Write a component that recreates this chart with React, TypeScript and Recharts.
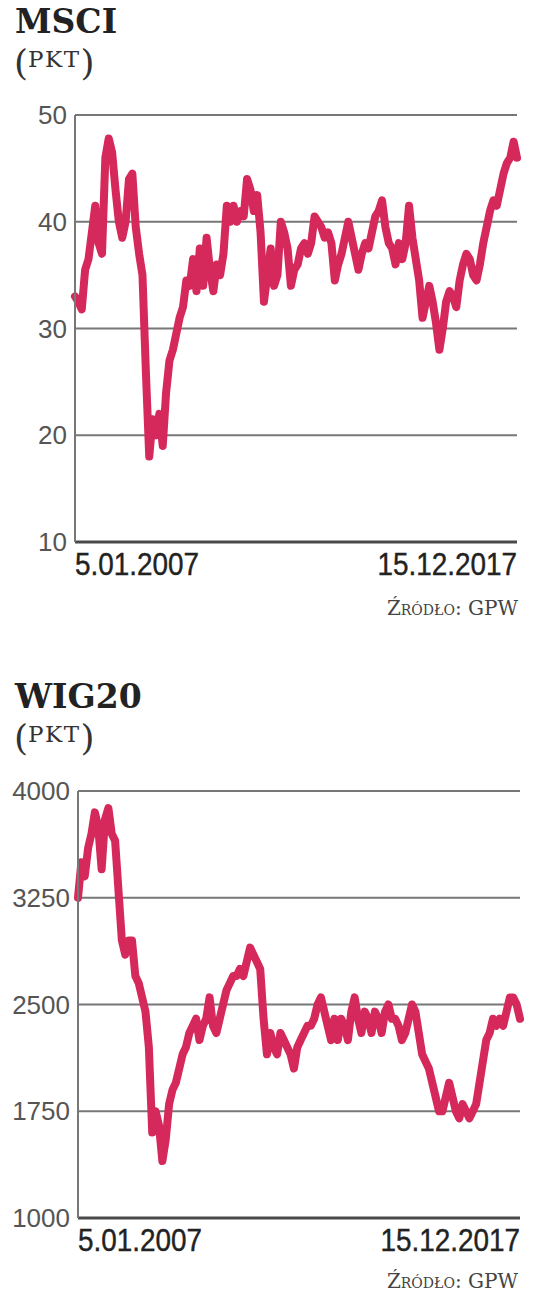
import React from "react";
import { LineChart, Line, XAxis, YAxis, CartesianGrid } from "recharts";

// monthly readings, Jan 2007 .. Dec 2017
const msciValues = [
  33, 32.5, 31.8, 35.5, 36.5, 39, 41.5, 38, 37, 46, 47.8, 46.5,
  43, 40, 38.5, 40, 44, 44.5, 39.5, 37, 35, 26, 18, 21.5,
  20, 22, 19, 24, 27, 28, 29.5, 31, 32, 34.5, 34, 36.5,
  33.5, 37.5, 34, 38.5, 35.5, 33.5, 36, 35, 37, 41.5, 40, 41.5,
  40, 41, 40.5, 44, 43, 41, 42.5, 39, 32.5, 35, 37.5, 34,
  35, 40, 39, 37.5, 34, 35.5, 36, 37.5, 38, 37, 38, 40.5,
  40, 39.5, 38.5, 39, 38, 34.5, 36, 37, 38.5, 40, 38.5, 37,
  35.5, 37, 38, 37.5, 39, 40.5, 41, 42, 39.5, 38, 37.5, 36,
  38, 36.5, 38, 41.5, 38.5, 36.5, 34.5, 31, 32.5, 34, 32.5, 30.5,
  28, 30, 32.5, 33.5, 33, 32, 34.5, 36, 37, 36.5, 35, 34.5,
  36, 38, 39.5, 41, 42, 41.5, 43, 44.5, 45.5, 46, 47.5, 46,
];

const wig20Values = [
  3250, 3500, 3400, 3600, 3700, 3850, 3750, 3450, 3800, 3880, 3700, 3650,
  3300, 2950, 2850, 2950, 2950, 2700, 2650, 2550, 2450, 2200, 1600, 1750,
  1650, 1400, 1550, 1800, 1900, 1950, 2050, 2150, 2200, 2300, 2350, 2400,
  2250, 2350, 2400, 2550, 2350, 2300, 2400, 2500, 2600, 2650, 2700, 2700,
  2750, 2700, 2800, 2900, 2850, 2800, 2750, 2400, 2150, 2300, 2200, 2150,
  2300, 2250, 2200, 2150, 2050, 2200, 2250, 2300, 2350, 2350, 2400, 2500,
  2550, 2450, 2350, 2250, 2400, 2250, 2400, 2350, 2250, 2450, 2550, 2400,
  2300, 2450, 2400, 2300, 2450, 2400, 2300, 2450, 2500, 2400, 2400, 2350,
  2250, 2300, 2400, 2500, 2450, 2300, 2150, 2100, 2050, 1950, 1850, 1750,
  1750, 1850, 1950, 1850, 1750, 1700, 1800, 1750, 1700, 1750, 1800, 1950,
  2100, 2250, 2300, 2400, 2350, 2400, 2350, 2450, 2550, 2550, 2500, 2400,
];

const years = [2007, 2008, 2009, 2010, 2011, 2012, 2013, 2014, 2015, 2016, 2017];
const monthNames = ["01", "02", "03", "04", "05", "06", "07", "08", "09", "10", "11", "12"];
const months = years.flatMap((y) => monthNames.map((m) => `${y}-${m}`));

const dateLabels = ["5.01.2007", "15.12.2017"];
const msciTicks = [10, 20, 30, 40, 50];
const wig20Ticks = [1000, 1750, 2500, 3250, 4000];

const msciData = months.map((month, i) => ({ month, value: msciValues[i] }));
const wig20Data = months.map((month, i) => ({ month, value: wig20Values[i] }));

const LINE = "#d6295b";
const GRID = "#777777";
const AXIS = "#4a4a4a";
const SERIF = "'DejaVu Serif', serif";
const SANS = "'Liberation Sans', sans-serif";

// bottom date labels, squeezed a little to look like the narrow original
function DateTick(props: any) {
  const { x, y, payload } = props;
  const first = payload.value === months[0];
  return (
    <g transform={`translate(${x},${y + 25}) scale(0.9,1)`}>
      <text
        x={0}
        y={0}
        textAnchor={first ? "start" : "end"}
        fill="#222"
        stroke="#222"
        strokeWidth={0.4}
        fontSize={31}
        fontFamily={SANS}
      >
        {first ? dateLabels[0] : dateLabels[1]}
      </text>
    </g>
  );
}

function Panel({
  data,
  ticks,
  domain,
  yWidth,
  right,
}: {
  data: { month: string; value: number }[];
  ticks: number[];
  domain: [number, number];
  yWidth: number;
  right: number;
}) {
  return (
    <LineChart
      width={536}
      height={492}
      data={data}
      margin={{ top: 15, right, bottom: 0, left: 0 }}
    >
      <CartesianGrid vertical={false} stroke={GRID} strokeWidth={2} />
      <XAxis
        dataKey="month"
        ticks={[months[0], months[months.length - 1]]}
        interval={0}
        tick={<DateTick />}
        tickLine={false}
        axisLine={{ stroke: AXIS, strokeWidth: 3 }}
        height={50}
      />
      <YAxis
        domain={domain}
        ticks={ticks}
        interval={0}
        width={yWidth}
        tickLine={false}
        axisLine={{ stroke: GRID, strokeWidth: 2 }}
        tick={{ fill: "#555", fontSize: 26, fontFamily: SANS }}
      />
      <Line
        type="linear"
        dataKey="value"
        stroke={LINE}
        strokeWidth={8}
        strokeLinejoin="round"
        strokeLinecap="round"
        dot={false}
        isAnimationActive={false}
      />
    </LineChart>
  );
}

function Header({ title, top }: { title: string; top: number }) {
  return (
    <svg width={536} height={90} style={{ position: "absolute", left: 0, top }}>
      <text x={15} y={33} fontFamily={SERIF} fontWeight="bold" fontSize={33} fill="#222">
        {title}
      </text>
      <text x={14} y={75} fontFamily={SERIF} fill="#333">
        <tspan fontSize={36}>(</tspan>
        <tspan fontSize={23} y={67} letterSpacing={1.5}>PKT</tspan>
        <tspan fontSize={36} y={75}>)</tspan>
      </text>
    </svg>
  );
}

function Source({ top }: { top: number }) {
  return (
    <svg width={536} height={30} style={{ position: "absolute", left: 0, top }}>
      <text
        x={518}
        y={20}
        textAnchor="end"
        fontFamily={SERIF}
        fontSize={20}
        fill="#444"
        style={{ fontVariant: "small-caps" }}
      >
        Źródło: GPW
      </text>
    </svg>
  );
}

export default function App() {
  return (
    <div
      style={{
        position: "absolute",
        left: 0,
        top: 0,
        width: 536,
        height: 1299,
        background: "#fff",
      }}
    >
      <Header title="MSCI" top={0} />
      <div style={{ position: "absolute", left: 0, top: 100 }}>
        <Panel data={msciData} ticks={msciTicks} domain={[10, 50]} yWidth={75} right={19} />
      </div>
      <Source top={595} />

      <Header title="WIG20" top={675} />
      <div style={{ position: "absolute", left: 0, top: 776 }}>
        <Panel data={wig20Data} ticks={wig20Ticks} domain={[1000, 4000]} yWidth={78} right={16} />
      </div>
      <Source top={1268} />
    </div>
  );
}
